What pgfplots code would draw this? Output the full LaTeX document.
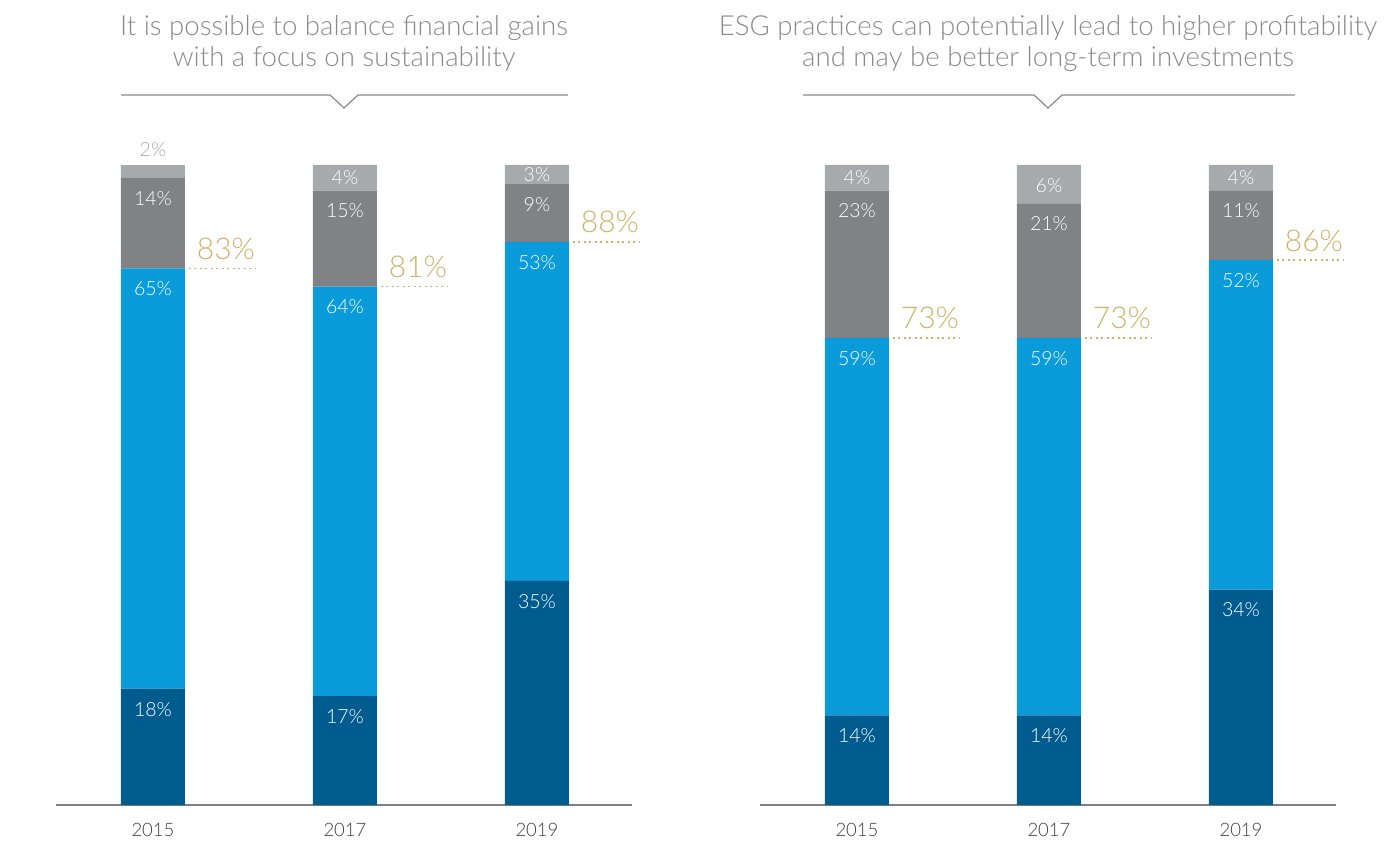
\documentclass[border=0pt]{standalone}
\usepackage{fontspec}
\setmainfont{Lato Light}
\usepackage{pgfplots}
\pgfplotsset{compat=1.18}
\usepackage{pgfplotstable}

\definecolor{cdb}{HTML}{005B8F}
\definecolor{clb}{HTML}{099BDA}
\definecolor{cdg}{HTML}{818286}
\definecolor{clg}{HTML}{A8A9AD}
\definecolor{gold}{HTML}{CFB26A}
\definecolor{titlegray}{HTML}{8A8A8A}
\definecolor{yeargray}{HTML}{3C3C3C}
\definecolor{axisgray}{HTML}{808080}

% x: position, d: dark blue, b: light blue, g: dark gray, l: light gray
% lo: offset (pt) of the light-gray label from the segment centre,
% lc: 100 = gray text above the bar, 0 = white text
\pgfplotstableread{
x d b g l lo lc
0 18 65 14 2 22 100
1 17 64 15 4 0 0
2 35 53 9 3 0 0
}\leftdata
\pgfplotstableread{
x d b g l lo lc
0 14 59 23 4 0 0
1 14 59 21 6 -1.3 0
2 34 52 11 4 0 0
}\rightdata

\pgfdeclareplotmark{goldline}{%
  \pgfpathmoveto{\pgfqpoint{36pt}{0pt}}%
  \pgfpathlineto{\pgfqpoint{103pt}{0pt}}%
  \pgfusepathqstroke}

\newcommand{\segfont}{\fontsize{19.5}{19.5}\selectfont}
\pgfplotsset{
  /pgf/number format/assume math mode=true,
  geom/.style={scale only axis, width=576pt, height=640pt,
    xmin=-0.505, xmax=2.495, ymin=0, ymax=100, clip=false},
  mybars/.style={geom,
    axis y line=none, axis x line*=bottom,
    x axis line style={draw=axisgray, line width=1.3pt, -},
    xtick={0,1,2}, xticklabels={2015,2017,2019}, major tick length=0pt,
    xticklabel style={anchor=center, yshift=-24.5pt,
      font=\fontsize{18.5}{18.5}\selectfont, text=yeargray},
    ybar stacked, bar width=64pt,
    nodes near coords={\pgfmathprintnumber{\pgfplotspointmeta}\%},
    point meta=explicit,
  },
  tot/.style={geom, hide axis},
}
\newcommand{\total}{(\thisrow{d}+\thisrow{b}+\thisrow{g}+\thisrow{l})}
% inner label: 20.5pt below the top of its segment (node sits at the segment centre)
\newcommand{\seg}[3]{%
  \addplot[fill=#2, draw=none,
    visualization depends on={320*\thisrow{#3}/\total - 20.5 \as \off},
    every node near coord/.style={anchor=center, yshift=\off pt, font=\segfont, text=white}]
    table[x=x, y expr=100*\thisrow{#3}/\total, meta=#3]{#1};
}
\newcommand{\panel}[1]{%
  \seg{#1}{cdb}{d}
  \seg{#1}{clb}{b}
  \seg{#1}{cdg}{g}
  \addplot[fill=clg, draw=none,
    visualization depends on={\thisrow{lo} \as \lofs},
    visualization depends on={int(\thisrow{lc}) \as \lcv},
    every node near coord/.style={anchor=center, yshift=\lofs pt, font=\segfont, text=clg!\lcv!white}]
    table[x=x, y expr=100*\thisrow{l}/\total, meta=l]{#1};
}
\newcommand{\totals}[1]{%
  \addplot[only marks, mark=goldline,
    mark options={draw=gold, line width=1.6pt, dash pattern=on 1.6pt off 3.9pt},
    nodes near coords={\pgfmathprintnumber{\pgfplotspointmeta}\%},
    point meta=explicit,
    every node near coord/.style={anchor=base, xshift=73pt, yshift=9pt,
      text=gold, font=\fontsize{30}{30}\selectfont}]
    table[x=x, y expr=100*(\thisrow{d}+\thisrow{b})/\total, meta expr=\thisrow{d}+\thisrow{b}]{#1};
}

\begin{document}
\begin{tikzpicture}[x=1pt, y=1pt]
\useasboundingbox (0,0) rectangle (1396,840);

% titles
\begin{scope}[font=\fontsize{27.6}{27.6}\selectfont, text=titlegray]
\node[anchor=base] at (344,804) {It is possible to balance financial gains};
\node[anchor=base] at (344,773) {with a focus on sustainability};
\node[anchor=base] at (1048,804) {ESG practices can potentially lead to higher profitability};
\node[anchor=base] at (1048,773) {and may be better long-term investments};
\end{scope}
\draw[titlegray, line width=1.2pt] (121,745) -- (330,745) -- (344,732) -- (358,745) -- (568,745);
\draw[titlegray, line width=1.2pt] (803,745) -- (1034,745) -- (1048,732) -- (1062,745) -- (1295,745);

\begin{axis}[mybars, at={(56pt,35pt)}, anchor=south west]
\panel{\leftdata}
\end{axis}
\begin{axis}[tot, at={(56pt,35pt)}, anchor=south west]
\totals{\leftdata}
\end{axis}

\begin{axis}[mybars, at={(760pt,35pt)}, anchor=south west]
\panel{\rightdata}
\end{axis}
\begin{axis}[tot, at={(760pt,35pt)}, anchor=south west]
\totals{\rightdata}
\end{axis}
\end{tikzpicture}
\end{document}
